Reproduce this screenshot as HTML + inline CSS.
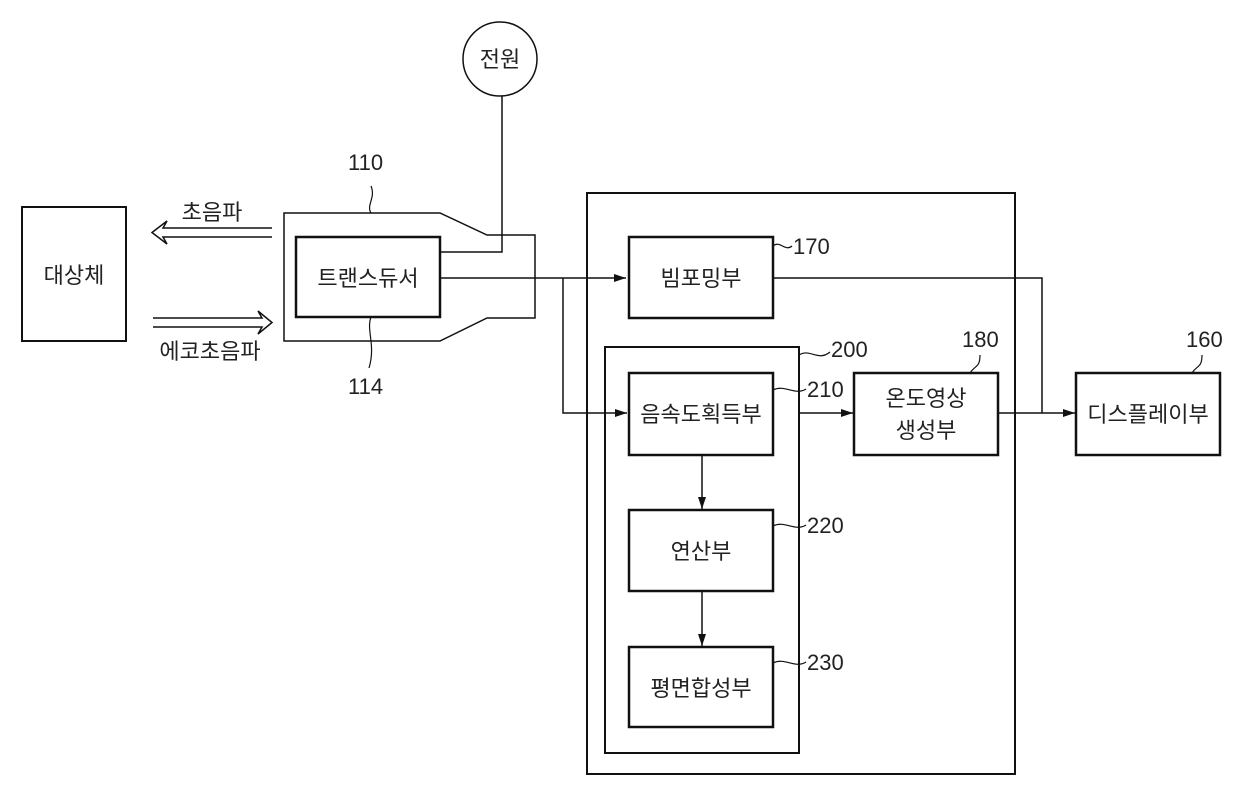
<!DOCTYPE html>
<html><head><meta charset="utf-8"><style>
html,body{margin:0;padding:0;background:#fff}
svg{display:block}
text{font-family:"Liberation Sans","Noto Sans CJK KR",sans-serif;fill:#222}
.n{font-family:"Liberation Sans Narrow","Liberation Sans",sans-serif}
</style></head><body>
<svg width="1240" height="801" viewBox="0 0 1240 801" xmlns="http://www.w3.org/2000/svg">
<defs><marker id="a" markerWidth="12" markerHeight="8" refX="12" refY="4" orient="auto" markerUnits="userSpaceOnUse"><path d="M0,0 L12,4 L0,8 z" fill="#111"/></marker></defs>
<g fill="none" stroke="#111" stroke-width="1.5">
<circle cx="500" cy="59" r="37"/>
<rect x="22" y="207" width="104" height="134" stroke-width="2"/>
<path d="M284,213 L440,213 L487,235 L535,235 L535,318 L487,318 L440,341 L284,341 Z"/>
<rect x="296" y="237" width="144" height="80" stroke-width="2.5"/>
<path d="M440,252 L502,252 L502,96"/>
<path d="M440,278 L626,278" marker-end="url(#a)"/>
<path d="M563,278 L563,413 L627,413" marker-end="url(#a)"/>
<path d="M272,228 L163,228 L167,221 L152,232.5 L167,244 L163,237 L272,237"/>
<path d="M153,318 L262,318 L258,311 L272,322.5 L258,334 L262,327 L153,327"/>
<rect x="587" y="193" width="428" height="581" stroke-width="2"/>
<rect x="605" y="347" width="194" height="406" stroke-width="2"/>
<rect x="629" y="237" width="144" height="81" stroke-width="2.5"/>
<rect x="629" y="373" width="144" height="82" stroke-width="2.5"/>
<rect x="629" y="510" width="144" height="81" stroke-width="2.5"/>
<rect x="629" y="647" width="144" height="80" stroke-width="2.5"/>
<rect x="854" y="373" width="144" height="82" stroke-width="2.5"/>
<rect x="1076" y="373" width="144" height="82" stroke-width="2.5"/>
<path d="M773,278 L1042,278 L1042,413"/>
<path d="M799,413 L853,413" marker-end="url(#a)"/>
<path d="M998,413 L1075,413" marker-end="url(#a)"/>
<path d="M702,455 L702,509" marker-end="url(#a)"/>
<path d="M702,591 L702,646" marker-end="url(#a)"/>
<path d="M371,213 C366,205 376,198 371,186" stroke-width="1.2"/>
<path d="M371,317 C366,330 376,345 369,368" stroke-width="1.2"/>
<path d="M773,246 C780,240 785,252 792,246" stroke-width="1.2"/>
<path d="M799,355 C810,348 818,362 830,352" stroke-width="1.2"/>
<path d="M773,390 C785,384 795,396 806,389" stroke-width="1.2"/>
<path d="M773,526 C785,520 795,532 806,525" stroke-width="1.2"/>
<path d="M773,663 C785,657 795,669 806,662" stroke-width="1.2"/>
<path d="M970,373 C975,365 980,368 980,355" stroke-width="1.2"/>
<path d="M1192,373 C1197,365 1202,368 1202,355" stroke-width="1.2"/>
</g>
<g font-size="22" text-anchor="middle">
<text x="500" y="67">전원</text>
<text x="74" y="283">대상체</text>
<text x="368" y="286">트랜스듀서</text>
<text x="212" y="220">초음파</text>
<text x="210" y="359">에코초음파</text>
<text x="701" y="286">빔포밍부</text>
<text x="701" y="422">음속도획득부</text>
<text x="701" y="559">연산부</text>
<text x="701" y="696">평면합성부</text>
<text x="926" y="406">온도영상</text>
<text x="926" y="438">생성부</text>
<text x="1148" y="422">디스플레이부</text>
</g>
<g font-size="22" text-anchor="start" class="n">
<text x="348" y="170">110</text>
<text x="348" y="394">114</text>
<text x="793" y="254">170</text>
<text x="831" y="357">200</text>
<text x="807" y="397">210</text>
<text x="807" y="533">220</text>
<text x="807" y="670">230</text>
<text x="962" y="347">180</text>
<text x="1186" y="347">160</text>
</g>
</svg>
</body></html>
